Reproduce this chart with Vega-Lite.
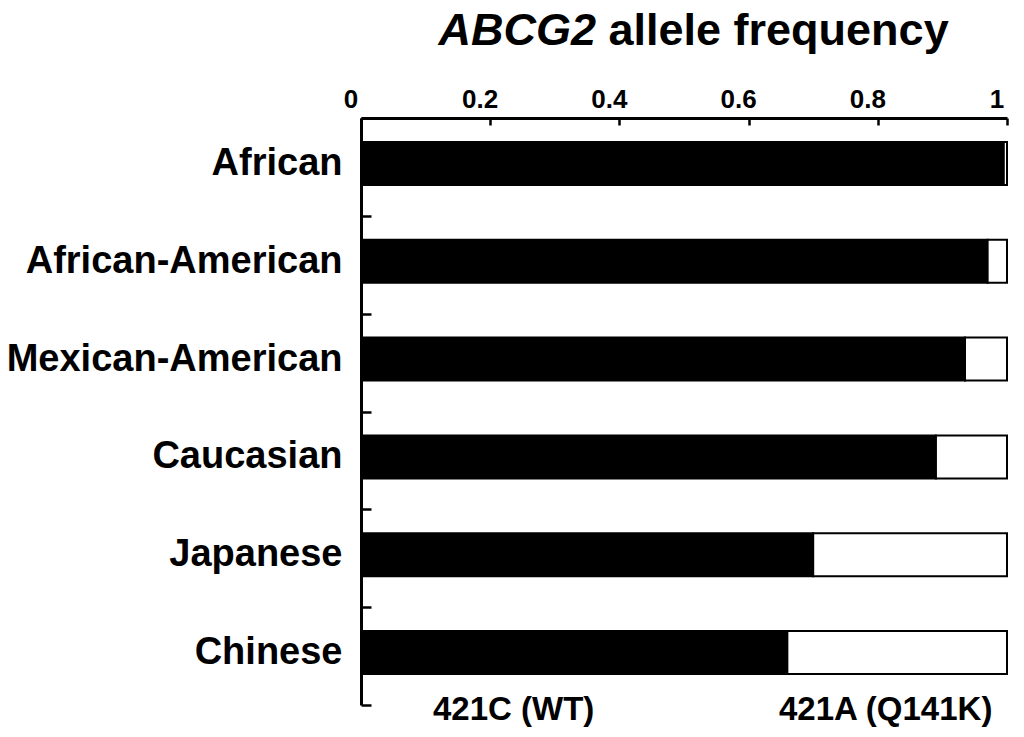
{
  "$schema": "https://vega.github.io/schema/vega-lite/v6.json",
  "autosize": {"type": "none"},
  "padding": {"left": 361, "top": 118, "right": 17, "bottom": 32},
  "width": 646,
  "height": 587,
  "background": "white",
  "config": {
    "view": {"stroke": null},
    "font": "Liberation Sans",
    "axis": {"domainColor": "black", "tickColor": "black", "labelColor": "black", "titleColor": "black", "grid": false}
  },
  "data": {
    "values": [
      {"population": "African", "allele": "421C (WT)", "frequency": 0.995},
      {"population": "African", "allele": "421A (Q141K)", "frequency": 0.005},
      {"population": "African-American", "allele": "421C (WT)", "frequency": 0.97},
      {"population": "African-American", "allele": "421A (Q141K)", "frequency": 0.03},
      {"population": "Mexican-American", "allele": "421C (WT)", "frequency": 0.935},
      {"population": "Mexican-American", "allele": "421A (Q141K)", "frequency": 0.065},
      {"population": "Caucasian", "allele": "421C (WT)", "frequency": 0.89},
      {"population": "Caucasian", "allele": "421A (Q141K)", "frequency": 0.11},
      {"population": "Japanese", "allele": "421C (WT)", "frequency": 0.70},
      {"population": "Japanese", "allele": "421A (Q141K)", "frequency": 0.30},
      {"population": "Chinese", "allele": "421C (WT)", "frequency": 0.66},
      {"population": "Chinese", "allele": "421A (Q141K)", "frequency": 0.34}
    ]
  },
  "mark": {"type": "bar", "height": {"band": 0.44}, "yOffset": -3.5, "stroke": "black", "strokeWidth": 2},
  "encoding": {
    "y": {
      "field": "population",
      "type": "nominal",
      "sort": ["African", "African-American", "Mexican-American", "Caucasian", "Japanese", "Chinese"],
      "scale": {"paddingInner": 0, "paddingOuter": 0},
      "axis": {
        "title": "ABCG2",
        "titleAngle": 0,
        "titleX": 77,
        "titleY": -74,
        "titleAlign": "left",
        "titleBaseline": "alphabetic",
        "titleFontSize": 45,
        "titleFontWeight": "bold",
        "titleFontStyle": "italic",
        "titleFont": "Liberation Sans",
        "labelFontSize": 38,
        "labelFontWeight": "bold",
        "labelFont": "Liberation Sans",
        "labelPadding": 29,
        "labelLimit": 400,
        "labelOffset": -3.5,
        "tickBand": "extent",
        "tickSize": -10,
        "tickWidth": 2.5,
        "domainWidth": 3
      }
    },
    "x": {
      "field": "frequency",
      "type": "quantitative",
      "stack": "zero",
      "scale": {"domain": [0, 1], "nice": false},
      "axis": {
        "orient": "top",
        "values": [0, 0.2, 0.4, 0.6, 0.8, 1],
        "format": "~g",
        "title": "allele frequency",
        "titleX": 247,
        "titleY": -74,
        "titleAlign": "left",
        "titleAnchor": "start",
        "titleBaseline": "alphabetic",
        "titleFontSize": 45,
        "titleFontWeight": "bold",
        "titleFont": "Liberation Sans",
        "labelFontSize": 26,
        "labelFontWeight": "bold",
        "labelFont": "Liberation Sans",
        "labelOffset": -10.5,
        "labelPadding": 18,
        "labelBaseline": "alphabetic",
        "labelFlush": false,
        "tickSize": -7,
        "tickWidth": 2.5,
        "domainWidth": 3
      }
    },
    "color": {
      "field": "allele",
      "type": "nominal",
      "sort": ["421C (WT)", "421A (Q141K)"],
      "scale": {"domain": ["421C (WT)", "421A (Q141K)"], "range": ["black", "white"]},
      "legend": {
        "orient": "none",
        "legendX": 39,
        "legendY": 575,
        "direction": "horizontal",
        "title": null,
        "symbolSize": 0,
        "symbolOpacity": 0,
        "symbolStrokeWidth": 0,
        "labelOffset": 0,
        "labelFontSize": 33,
        "labelFontWeight": "bold",
        "labelFont": "Liberation Sans",
        "labelColor": "black",
        "labelLimit": 400,
        "columnPadding": 151,
        "padding": 0
      }
    },
    "order": {"field": "allele", "sort": "descending"}
  }
}
